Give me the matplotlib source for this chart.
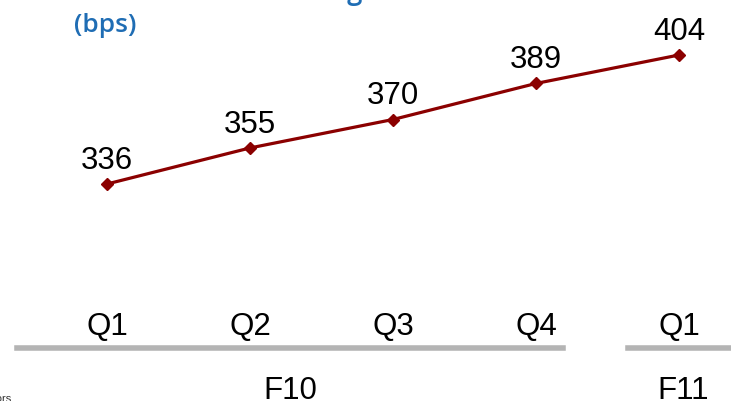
"""Quarterly margin line chart, F10 to F11 Q1"""

import matplotlib.pyplot as plt
from matplotlib.lines import Line2D

plt.rcParams["font.family"] = ["Liberation Sans", "DejaVu Sans"]

quarters = ["Q1", "Q2", "Q3", "Q4", "Q1"]
margin_bps = [336, 355, 370, 389, 404]
year_labels = ["F10", "F11"]

LINE_RED = "#8b0000"
BAR_GREY = "#b4b4b4"
TITLE_BLUE = "#1f6db4"

W, H = 731, 401
fig = plt.figure(figsize=(W / 100, H / 100), dpi=100)
ax = fig.add_axes([0, 0, 1, 1])
ax.set_xlim(-0.748, 4.364)
ax.set_ylim(221.6, 433.0)
ax.axis("off")

xs = list(range(len(margin_bps)))
ax.plot(xs, margin_bps, color=LINE_RED, lw=2.3, marker="D", ms=6.5,
        markeredgecolor=LINE_RED, markerfacecolor=LINE_RED)

for x, v in zip(xs, margin_bps):
    ax.annotate(str(v), (x, v), xytext=(0, 6), textcoords="offset points",
                ha="center", va="bottom", fontsize=22.5, color="black")


def px(x, y):
    # pixel coords from the top-left corner to figure fraction
    return x / W, 1 - y / H


for x, q in zip(xs, quarters):
    fx = ax.transData.transform((x, 0))[0] / W
    fig.text(fx, px(0, 327)[1], q, ha="center", va="center", fontsize=22.5)

# grey year brackets under the quarter labels
for x0, x1 in [(17, 563), (628, 735)]:
    fig.add_artist(Line2D([x0 / W, x1 / W], [px(0, 347.5)[1]] * 2,
                          color=BAR_GREY, lw=4))

fig.text(*px(290, 391), year_labels[0], ha="center", va="center", fontsize=22.5)
fig.text(*px(683, 391), year_labels[1], ha="center", va="center", fontsize=22.5)

fig.text(*px(74, 25), "(bps)", ha="left", va="center", fontsize=19,
         fontweight="semibold", color=TITLE_BLUE,
         family=["Open Sans", "DejaVu Sans"])
fig.text(*px(388, -1), "Net Interest Margin", ha="right", va="baseline",
         fontsize=20, fontweight="semibold", color=TITLE_BLUE,
         family=["Open Sans", "DejaVu Sans"])
fig.text(*px(11, 394), "Investors", ha="right", va="top", fontsize=8,
         color="#333333")

fig.savefig("out.png", dpi=100)
